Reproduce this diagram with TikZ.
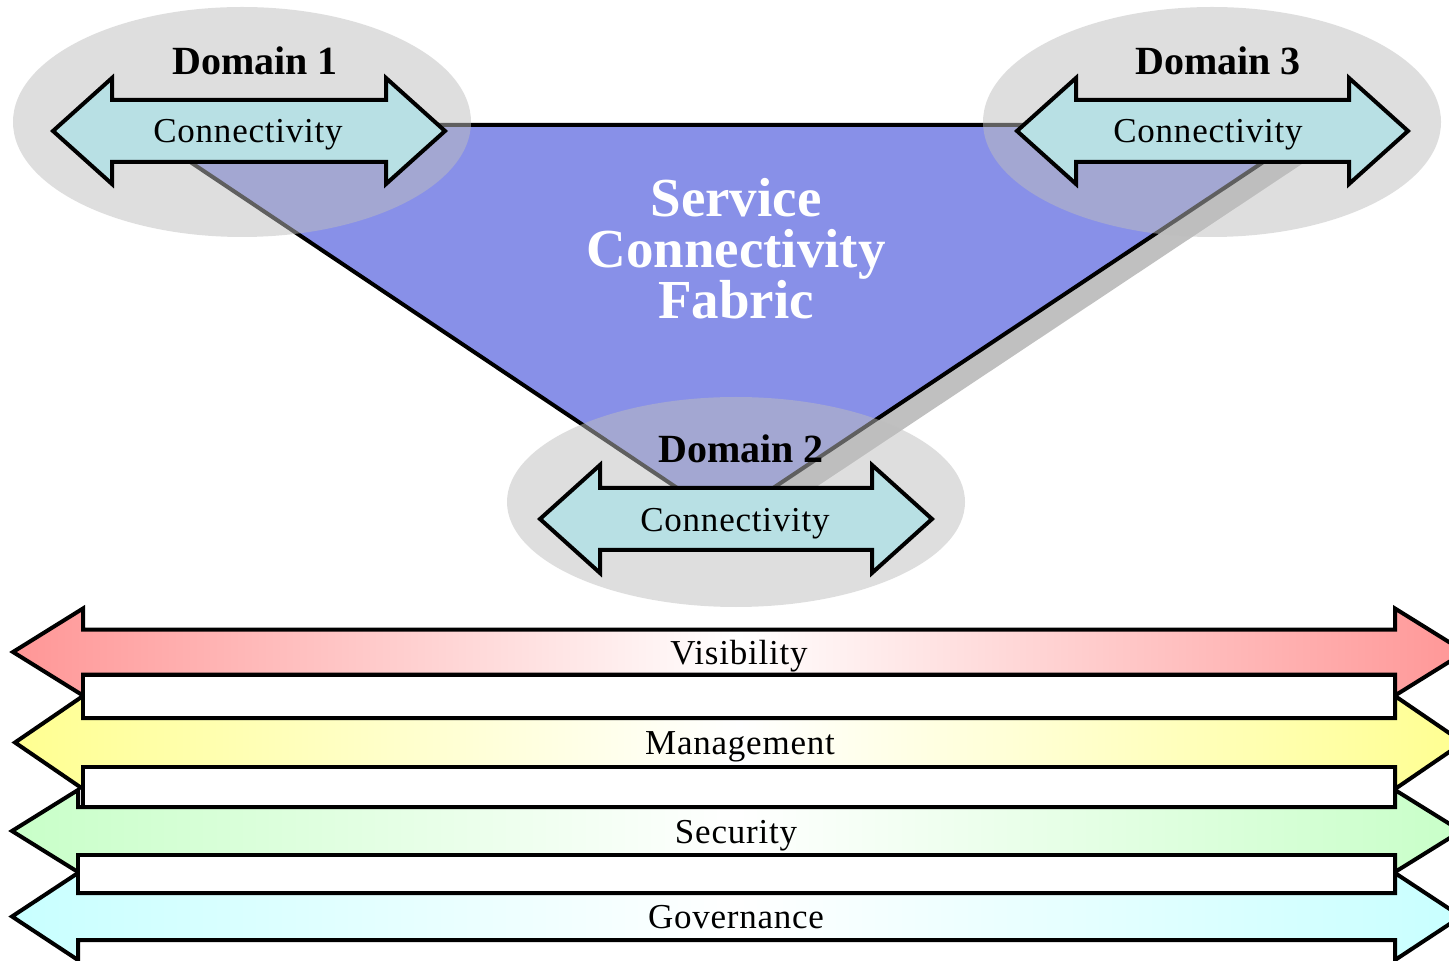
\documentclass[tikz,border=0pt]{standalone}
\usepackage{fontspec}
\setmainfont{Liberation Serif}
\newfontfamily\trackedfont[LetterSpace=2.2]{Liberation Serif}
\usepackage{tikz}
\usetikzlibrary{positioning}

\definecolor{fabricblue}{RGB}{136,144,232}
\definecolor{shadowgray}{RGB}{192,192,192}
\definecolor{domaingray}{RGB}{190,190,190}
\definecolor{linkteal}{RGB}{184,224,228}
\definecolor{visred}{RGB}{255,150,150}
\definecolor{mgmtyellow}{RGB}{255,255,145}
\definecolor{secgreen}{RGB}{200,255,200}
\definecolor{govcyan}{RGB}{200,255,255}

% double arrow: [style] left tip, right tip, mid y, shaft half, head half, head length
\newcommand{\dblarrow}[7][]{%
  \path[#1] (#2,#4) -- ({#2+#7},{#4-#6}) -- ({#2+#7},{#4-#5}) -- ({#3-#7},{#4-#5})
    -- ({#3-#7},{#4-#6}) -- (#3,#4) -- ({#3-#7},{#4+#6}) -- ({#3-#7},{#4+#5})
    -- ({#2+#7},{#4+#5}) -- ({#2+#7},{#4+#6}) -- cycle;}

\begin{document}
\begin{tikzpicture}[x=0.5pt, y=-0.5pt,
    linkarrow/.style={draw, line width=2pt, fill=linkteal},
    band/.style={draw, line width=2pt, left color=#1, right color=#1, middle color=white},
    gapbox/.style={draw, line width=2pt, fill=white},
    domainblob/.style={fill=domaingray, fill opacity=0.5},
    domaintitle/.style={font=\fontsize{20}{24}\selectfont\bfseries},
    linktext/.style={anchor=base, font=\trackedfont\fontsize{17.5}{21}\selectfont},
    bandtext/.style={anchor=base, font=\trackedfont\fontsize{17.5}{21}\selectfont}]

    \clip (0,0) rectangle (1449,961);

    % fabric triangle with its shadow
    \coordinate (tl) at (135,125);
    \coordinate (tr) at (1319,125);
    \coordinate (bt) at (725,520);
    \fill[shadowgray] ([shift={(22,13)}]tl) -- ([shift={(22,13)}]tr) -- ([shift={(22,13)}]bt) -- cycle;
    \draw[fill=fabricblue, line width=2pt] (tl) -- (tr) -- (bt) -- cycle;

    % domains
    \fill[domainblob] (242,122) ellipse [x radius=114.5pt, y radius=57.5pt];
    \fill[domainblob] (1212,122) ellipse [x radius=114.5pt, y radius=57.5pt];
    \fill[domainblob] (736,502) ellipse [x radius=114.5pt, y radius=52.5pt];

    \dblarrow[linkarrow]{53}{445}{131}{31}{53}{59}
    \dblarrow[linkarrow]{1017}{1408}{131}{31}{53}{59}
    \dblarrow[linkarrow]{540}{932}{519}{31}{54}{60}

    \node[domaintitle] (d1) at (255,61) {Domain 1};
    \node[domaintitle] (d3) at (1218,61) {Domain 3};
    \node[domaintitle] (d2) at (741,449) {Domain 2};

    \node[linktext] (c1) at (248,143) {Connectivity};
    \node[linktext] (c3) at (1208,143) {Connectivity};
    \node[linktext] (c2) at (735,531) {Connectivity};

    \node[align=center, text=white, font=\fontsize{27.5}{25.5}\selectfont\bfseries] (scf) at (736,249)
        {Service\\Connectivity\\Fabric};

    % cross-cutting bands
    \dblarrow[band=visred]{13}{1465}{652}{22.5}{43.5}{70}
    \dblarrow[band=mgmtyellow]{15}{1463}{742.5}{24.5}{46.5}{68}
    \dblarrow[band=secgreen]{12}{1461}{831}{24}{41}{66}
    \dblarrow[band=govcyan]{12}{1461}{916.5}{23.5}{43.5}{66}

    \path[gapbox] (83,675) rectangle (1395,718);
    \path[gapbox] (83,767) rectangle (1395,807);
    \path[gapbox] (78,855) rectangle (1395,893);

    \node[bandtext] (vis) at (739,664) {Visibility};
    \node[bandtext] (mgmt) at (740,754) {Management};
    \node[bandtext] (sec) at (736,843) {Security};
    \node[bandtext] (gov) at (736,928) {Governance};

\end{tikzpicture}
\end{document}
